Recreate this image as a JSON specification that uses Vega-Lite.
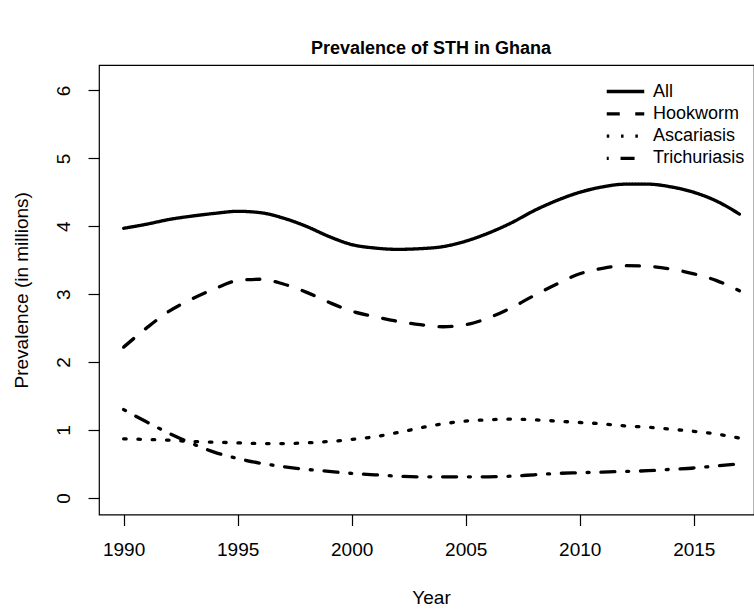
{
  "$schema": "https://vega.github.io/schema/vega-lite/v6.json",
  "width": 655,
  "height": 449.5,
  "autosize": {"type": "none"},
  "padding": {"left": 99, "top": 65, "right": 0, "bottom": 94.5},
  "background": "white",
  "config": {"view": {"stroke": "black", "strokeWidth": 1.2}, "font": "Liberation Sans"},
  "title": {"text": "Prevalence of STH in Ghana", "fontSize": 18, "fontWeight": "bold", "font": "Liberation Sans", "color": "black", "anchor": "middle", "baseline": "alphabetic", "offset": 10.5, "dx": 4.5, "dy": 17.5, "frame": "group"},
  "data": {"values": [
    {"year":1990,"series":"All","value":3.97},{"year":1991,"series":"All","value":4.03},{"year":1992,"series":"All","value":4.10},{"year":1993,"series":"All","value":4.15},{"year":1994,"series":"All","value":4.19},{"year":1995,"series":"All","value":4.22},{"year":1996,"series":"All","value":4.20},{"year":1997,"series":"All","value":4.12},{"year":1998,"series":"All","value":4.00},{"year":1999,"series":"All","value":3.85},{"year":2000,"series":"All","value":3.73},{"year":2001,"series":"All","value":3.68},{"year":2002,"series":"All","value":3.66},{"year":2003,"series":"All","value":3.67},{"year":2004,"series":"All","value":3.70},{"year":2005,"series":"All","value":3.78},{"year":2006,"series":"All","value":3.90},{"year":2007,"series":"All","value":4.05},{"year":2008,"series":"All","value":4.23},{"year":2009,"series":"All","value":4.38},{"year":2010,"series":"All","value":4.50},{"year":2011,"series":"All","value":4.58},{"year":2012,"series":"All","value":4.62},{"year":2013,"series":"All","value":4.62},{"year":2014,"series":"All","value":4.58},{"year":2015,"series":"All","value":4.50},{"year":2016,"series":"All","value":4.37},{"year":2017,"series":"All","value":4.18},
    {"year":1990,"series":"Hookworm","value":2.22},{"year":1991,"series":"Hookworm","value":2.50},{"year":1992,"series":"Hookworm","value":2.75},{"year":1993,"series":"Hookworm","value":2.93},{"year":1994,"series":"Hookworm","value":3.08},{"year":1995,"series":"Hookworm","value":3.20},{"year":1996,"series":"Hookworm","value":3.22},{"year":1997,"series":"Hookworm","value":3.15},{"year":1998,"series":"Hookworm","value":3.03},{"year":1999,"series":"Hookworm","value":2.88},{"year":2000,"series":"Hookworm","value":2.75},{"year":2001,"series":"Hookworm","value":2.67},{"year":2002,"series":"Hookworm","value":2.60},{"year":2003,"series":"Hookworm","value":2.55},{"year":2004,"series":"Hookworm","value":2.52},{"year":2005,"series":"Hookworm","value":2.55},{"year":2006,"series":"Hookworm","value":2.65},{"year":2007,"series":"Hookworm","value":2.80},{"year":2008,"series":"Hookworm","value":2.98},{"year":2009,"series":"Hookworm","value":3.15},{"year":2010,"series":"Hookworm","value":3.30},{"year":2011,"series":"Hookworm","value":3.38},{"year":2012,"series":"Hookworm","value":3.42},{"year":2013,"series":"Hookworm","value":3.41},{"year":2014,"series":"Hookworm","value":3.37},{"year":2015,"series":"Hookworm","value":3.30},{"year":2016,"series":"Hookworm","value":3.20},{"year":2017,"series":"Hookworm","value":3.05},
    {"year":1990,"series":"Ascariasis","value":0.87},{"year":1991,"series":"Ascariasis","value":0.86},{"year":1992,"series":"Ascariasis","value":0.85},{"year":1993,"series":"Ascariasis","value":0.83},{"year":1994,"series":"Ascariasis","value":0.82},{"year":1995,"series":"Ascariasis","value":0.81},{"year":1996,"series":"Ascariasis","value":0.80},{"year":1997,"series":"Ascariasis","value":0.80},{"year":1998,"series":"Ascariasis","value":0.81},{"year":1999,"series":"Ascariasis","value":0.83},{"year":2000,"series":"Ascariasis","value":0.86},{"year":2001,"series":"Ascariasis","value":0.90},{"year":2002,"series":"Ascariasis","value":0.96},{"year":2003,"series":"Ascariasis","value":1.03},{"year":2004,"series":"Ascariasis","value":1.09},{"year":2005,"series":"Ascariasis","value":1.13},{"year":2006,"series":"Ascariasis","value":1.15},{"year":2007,"series":"Ascariasis","value":1.16},{"year":2008,"series":"Ascariasis","value":1.15},{"year":2009,"series":"Ascariasis","value":1.13},{"year":2010,"series":"Ascariasis","value":1.11},{"year":2011,"series":"Ascariasis","value":1.09},{"year":2012,"series":"Ascariasis","value":1.06},{"year":2013,"series":"Ascariasis","value":1.04},{"year":2014,"series":"Ascariasis","value":1.01},{"year":2015,"series":"Ascariasis","value":0.98},{"year":2016,"series":"Ascariasis","value":0.94},{"year":2017,"series":"Ascariasis","value":0.88},
    {"year":1990,"series":"Trichuriasis","value":1.30},{"year":1991,"series":"Trichuriasis","value":1.12},{"year":1992,"series":"Trichuriasis","value":0.95},{"year":1993,"series":"Trichuriasis","value":0.80},{"year":1994,"series":"Trichuriasis","value":0.67},{"year":1995,"series":"Trichuriasis","value":0.58},{"year":1996,"series":"Trichuriasis","value":0.51},{"year":1997,"series":"Trichuriasis","value":0.46},{"year":1998,"series":"Trichuriasis","value":0.42},{"year":1999,"series":"Trichuriasis","value":0.39},{"year":2000,"series":"Trichuriasis","value":0.36},{"year":2001,"series":"Trichuriasis","value":0.34},{"year":2002,"series":"Trichuriasis","value":0.32},{"year":2003,"series":"Trichuriasis","value":0.31},{"year":2004,"series":"Trichuriasis","value":0.31},{"year":2005,"series":"Trichuriasis","value":0.31},{"year":2006,"series":"Trichuriasis","value":0.31},{"year":2007,"series":"Trichuriasis","value":0.32},{"year":2008,"series":"Trichuriasis","value":0.34},{"year":2009,"series":"Trichuriasis","value":0.36},{"year":2010,"series":"Trichuriasis","value":0.37},{"year":2011,"series":"Trichuriasis","value":0.38},{"year":2012,"series":"Trichuriasis","value":0.39},{"year":2013,"series":"Trichuriasis","value":0.40},{"year":2014,"series":"Trichuriasis","value":0.42},{"year":2015,"series":"Trichuriasis","value":0.44},{"year":2016,"series":"Trichuriasis","value":0.47},{"year":2017,"series":"Trichuriasis","value":0.50}
  ]},
  "mark": {"type": "line", "color": "black", "strokeWidth": 3.3, "strokeCap": "round", "interpolate": "monotone", "clip": true},
  "encoding": {
    "x": {"field": "year", "type": "quantitative",
      "scale": {"domain": [1988.92, 2017.64], "nice": false, "zero": false},
      "axis": {"values": [1990, 1995, 2000, 2005, 2010, 2015], "format": "d", "grid": false, "domain": false,
        "tickSize": 11, "tickColor": "black", "tickWidth": 1.2,
        "labelFontSize": 19, "labelColor": "black", "labelBaseline": "alphabetic", "labelPadding": 29.5, "labelFlush": false,
        "title": "Year", "titleFontSize": 19, "titleFontWeight": "normal", "titleColor": "black",
        "titleBaseline": "alphabetic", "titleY": 89, "titleX": 332, "titleAlign": "center"}},
    "y": {"field": "value", "type": "quantitative",
      "scale": {"domain": [-0.245, 6.375], "nice": false, "zero": false},
      "axis": {"values": [0, 1, 2, 3, 4, 5, 6], "grid": false, "domain": false,
        "tickSize": 11, "tickColor": "black", "tickWidth": 1.2,
        "labelAngle": 270, "labelAlign": "center", "labelBaseline": "alphabetic", "labelPadding": 18.5,
        "labelFontSize": 19, "labelColor": "black", "labelFlush": false,
        "title": "Prevalence (in millions)", "titleFontSize": 19, "titleFontWeight": "normal", "titleColor": "black",
        "titleAngle": 270, "titleBaseline": "alphabetic", "titleX": -72, "titleY": 224.75, "titleAlign": "center"}},
    "strokeDash": {"field": "series", "type": "nominal",
      "scale": {"domain": ["All", "Hookworm", "Ascariasis", "Trichuriasis"],
        "range": [[1, 0], [13, 15.5], [2.5, 11.8], [2, 11.8, 14, 11.8]]},
      "legend": {"title": null, "orient": "none", "legendX": 517, "legendY": 17,
        "symbolType": "M-2.5,0H2.5", "symbolSize": 225, "symbolStrokeWidth": 3.3, "symbolStrokeColor": "black",
        "symbolFillColor": "transparent",
        "labelFontSize": 18, "labelOffset": 18, "labelColor": "black", "rowPadding": 3.3, "padding": 0,
        "labelLimit": 300}}
  }
}
